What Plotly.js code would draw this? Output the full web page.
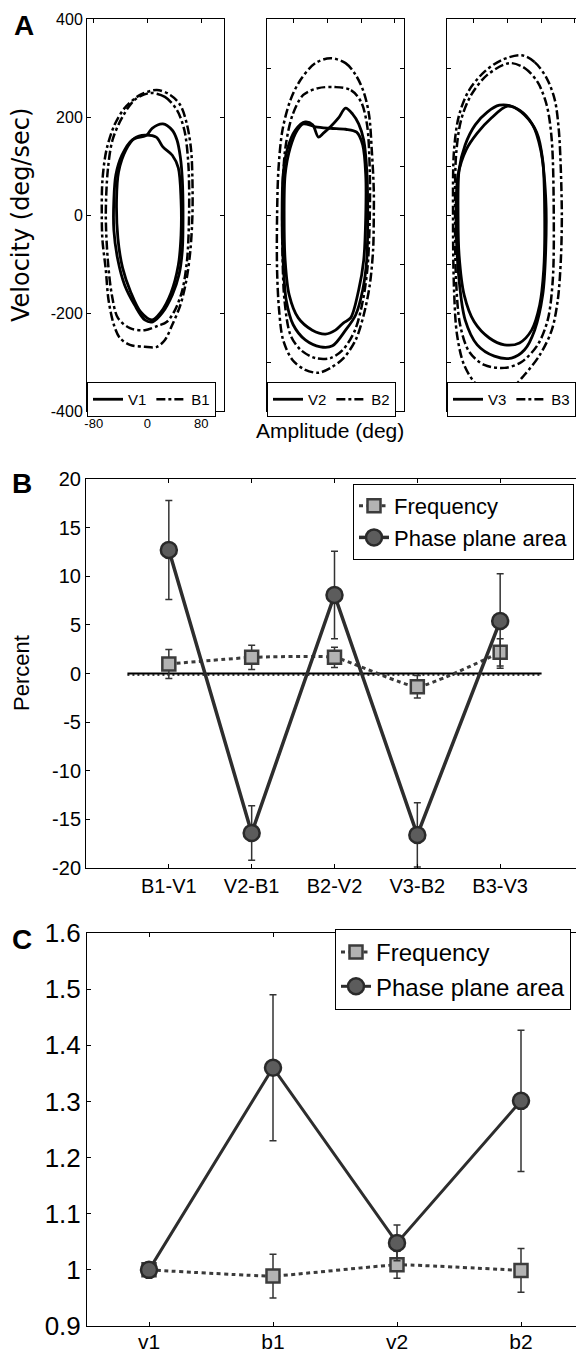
<!DOCTYPE html>
<html><head><meta charset="utf-8">
<script src="https://cdn.plot.ly/plotly-3.0.1.min.js"></script>
<style>html,body{margin:0;padding:0;overflow:hidden;background:#fff;width:576px;height:1353px}</style>
</head><body><div id="chart" style="width:600px;height:1353px"></div>
<script>
// ---------- Panel A: phase-plane loops (amplitude deg, velocity deg/sec) ----------
const v1aX = [-1,7,23,37,44,49,52,53,52,47,37,22,8,-4,-19,-34,-44,-50,-50,-47,-38,-23,-1];
const v1aY = [163,177,186,173,153,118,71,0,-71,-122,-163,-200,-218,-214,-184,-143,-92,-31,31,82,122,153,163];
const v1bX = [-4,13,23,37,46,50,50,46,35,20,7,-10,-25,-37,-44,-46,-43,-32,-19,-4];
const v1bY = [163,159,139,122,96,31,-41,-102,-159,-198,-214,-198,-157,-108,-47,31,88,133,157,163];
const b1aX = [14,34,49,59,65,67,67,64,58,49,37,26,14,-4,-26,-41,-50,-58,-62,-67,-68,-67,-61,-49,-34,-11,14];
const b1aY = [255,245,224,184,133,71,0,-71,-133,-184,-224,-255,-269,-269,-265,-251,-224,-173,-112,-51,0,71,133,184,218,245,255];
const b1bX = [4,26,44,55,61,62,59,52,41,29,16,-4,-26,-44,-53,-59,-62,-59,-52,-38,-19,4];
const b1bY = [249,241,214,173,102,0,-92,-153,-194,-218,-226,-235,-231,-210,-163,-92,0,92,153,198,235,249];

const v2aX = [-33,-22,-13.5,-6,4.5,16.5,27,37.5,46.5,54,58.5,60,58.5,52.5,42,27,7.5,-10.5,-33,-51,-61.5,-66,-67.5,-66,-60,-48,-33];
const v2aY = [190,184,159,167,180,198,218,206,186,153,92,-4,-92,-153,-204,-235,-267,-269,-255,-224,-173,-92,-4,82,133,173,190];
const v2bX = [-36,-18,4.5,27,43.5,52.5,57,57,54,46.5,34.5,24,12,-3,-22.5,-43.5,-57,-63,-64.5,-63,-55.5,-45,-36];
const v2bY = [186,180,177,175,169,143,82,-4,-92,-153,-210,-220,-235,-243,-235,-210,-163,-92,-4,82,137,173,186];
const b2aX = [4.5,27,42,54,62,66,69,69,68,63,54,42,24,4.5,-13.5,-33,-52,-66,-72,-75,-75,-73,-67,-55,-40,-18,4.5];
const b2aY = [320,310,286,251,204,133,51,-4,-71,-143,-204,-255,-292,-312,-322,-316,-296,-255,-194,-112,-4,92,173,235,276,310,320];
const b2bX = [12,35,50,59,63,63,60,53,41,23,4.5,-18,-40,-55,-64,-67,-67,-63,-52,-36,-13.5,12];
const b2bY = [261,255,231,184,92,-4,-102,-173,-235,-275,-292,-292,-275,-245,-173,-71,31,133,204,245,259,261];

const v3aX = [-30,-12,6,25.5,43.5,52.5,55.5,54,48,36,18,-4.5,-27,-49.5,-64.5,-72,-73.5,-72,-63,-48,-30];
const v3aY = [210,224,222,204,169,112,-4,-112,-184,-235,-261,-265,-251,-218,-163,-82,-4,92,143,184,210];
const v3bX = [-61.5,-45,-24,0,18,37.5,49.5,57,57,52.5,40.5,25.5,6,-19.5,-45,-63,-72,-76.5,-73.5,-61.5];
const v3bY = [133,167,198,222,214,184,133,35,-71,-163,-235,-275,-292,-288,-265,-214,-133,-4,82,133];
const b3aX = [21,40.5,58.5,70.5,76.5,79.5,81,79.5,75,66,48,25.5,6,-19.5,-45,-64.5,-75,-79.5,-81,-79.5,-72,-57,-34.5,-9,21];
const b3aY = [326,312,279,235,173,92,-4,-92,-173,-235,-286,-326,-353,-361,-347,-306,-245,-153,-4,133,204,255,292,316,326];
const b3bX = [3,25.5,45,58.5,66,69,67.5,60,45,21,-4.5,-34.5,-57,-70.5,-76.5,-78,-76.5,-69,-54,-30,3];
const b3bY = [310,300,271,224,153,-4,-133,-214,-265,-300,-312,-306,-279,-224,-133,-4,122,194,245,286,310];

const aYTicks = [-400,-200,0,200,400];
const aYTickText = ['-400','-200','0','200','400'];
const aYMinor = [-400,-300,-200,-100,0,100,200,300,400];
const aXTicks1 = [-80,0,80];
const aXTickText1 = ['-80','0','80'];
const aXTicks23 = [-50,0,50,100];

// ---------- Panel B: percent change ----------
const catB = ['B1-V1','V2-B1','B2-V2','V3-B2','B3-V3'];
const posB = [1,2,3,4,5];
const freqB = [0.98,1.66,1.66,-1.36,2.18];
const freqBErr = [1.5,1.25,1.05,1.15,1.4];
const phaseB = [12.7,-16.4,8.07,-16.6,5.4];
const phaseBErr = [5.1,2.8,4.5,3.3,4.85];
const zeroX = [0.5,5.5];
const zeroY = [0,0];
const zeroDotY = [-0.15,-0.15];
const bYTicks = [-20,-15,-10,-5,0,5,10,15,20];
const bYTickText = ['-20','-15','-10','-5','0','5','10','15','20'];

// ---------- Panel C: normalised values ----------
const catC = ['v1','b1','v2','b2'];
const posC = [1,2,3,4];
const freqC = [1.0,0.989,1.009,0.999];
const freqCErr = [0,0.039,0.024,0.039];
const phaseC = [1.0,1.36,1.048,1.301];
const phaseCErr = [0,0.13,0.032,0.126];

// ---------- layout helpers ----------
const W = 600, H = 1353;
const fx = p => p / W;
const fy = p => 1 - p / H;
const FONT = 'Liberation Sans, Arial, Helvetica, sans-serif';

function loop(x, y, n, name, dash, show) {
  return {type:'scatter', mode:'lines', x:x, y:y, xaxis:'x'+(n===1?'':n), yaxis:'y'+(n===1?'':n),
    name:name, legend: n===1?'legend':'legend'+n, showlegend:show, hoverinfo:'skip',
    line:{color:'#000', width: dash==='solid'?2.8:2.5, dash:dash, shape:'spline', smoothing:0.9}};
}

const traces = [
  loop(b1aX,b1aY,1,'B1','dashdot',false), loop(b1bX,b1bY,1,'B1','dashdot',true),
  loop(v1aX,v1aY,1,'V1','solid',true), loop(v1bX,v1bY,1,'V1','solid',false),
  loop(b2aX,b2aY,2,'B2','dashdot',false), loop(b2bX,b2bY,2,'B2','dashdot',true),
  loop(v2aX,v2aY,2,'V2','solid',true), loop(v2bX,v2bY,2,'V2','solid',false),
  loop(b3aX,b3aY,3,'B3','dashdot',false), loop(b3bX,b3bY,3,'B3','dashdot',true),
  loop(v3aX,v3aY,3,'V3','solid',true), loop(v3bX,v3bY,3,'V3','solid',false),
];

// Panel B
traces.push({type:'scatter', mode:'lines', x:zeroX, y:zeroDotY, xaxis:'x4', yaxis:'y4', showlegend:false,
  line:{color:'#000', width:1.5, dash:'2px,3px'}, hoverinfo:'skip'});
traces.push({type:'scatter', mode:'lines', x:zeroX, y:zeroY, xaxis:'x4', yaxis:'y4', showlegend:false,
  line:{color:'#000', width:1.8}, hoverinfo:'skip'});
traces.push({type:'scatter', mode:'lines+markers', x:posB, y:freqB, xaxis:'x4', yaxis:'y4',
  name:'Frequency', legend:'legend4',
  error_y:{type:'data', array:freqBErr, visible:true, color:'#333', thickness:1.5, width:3.5},
  line:{color:'#3a3a3a', width:3, dash:'4px,3.5px', shape:'spline', smoothing:0.4},
  marker:{symbol:'square', size:13, color:'#b3b3b3', line:{color:'#3c3c3c', width:2.5}}});
traces.push({type:'scatter', mode:'lines+markers', x:posB, y:phaseB, xaxis:'x4', yaxis:'y4',
  name:'Phase plane area', legend:'legend4',
  error_y:{type:'data', array:phaseBErr, visible:true, color:'#333', thickness:1.5, width:3.5},
  line:{color:'#2d2d2d', width:3.5},
  marker:{symbol:'circle', size:16, color:'#5c5c5c', line:{color:'#2a2a2a', width:2.5}}});

// Panel C
traces.push({type:'scatter', mode:'lines+markers', x:posC, y:freqC, xaxis:'x5', yaxis:'y5',
  name:'Frequency', legend:'legend5',
  error_y:{type:'data', array:freqCErr, visible:true, color:'#333', thickness:1.5, width:3.5},
  line:{color:'#3a3a3a', width:3, dash:'4px,3.5px', shape:'spline', smoothing:0.3},
  marker:{symbol:'square', size:13, color:'#b3b3b3', line:{color:'#3c3c3c', width:2.5}}});
traces.push({type:'scatter', mode:'lines+markers', x:posC, y:phaseC, xaxis:'x5', yaxis:'y5',
  name:'Phase plane area', legend:'legend5',
  error_y:{type:'data', array:phaseCErr, visible:true, color:'#333', thickness:1.5, width:3.5},
  line:{color:'#2d2d2d', width:3},
  marker:{symbol:'circle', size:16, color:'#5c5c5c', line:{color:'#2a2a2a', width:2.5}}});

const axBase = {showline:true, linecolor:'#000', linewidth:1, mirror:'ticks', ticks:'inside', ticklen:4,
  tickcolor:'#000', tickwidth:1, zeroline:false, showgrid:false, fixedrange:true,
  tickfont:{family:FONT, size:13, color:'#000'}};
const ax = o => Object.assign({}, axBase, o);

const aYd = [fy(411), fy(19)];
const legA = x0 => ({x:fx(x0), y:fy(382), xanchor:'left', yanchor:'top', orientation:'h', bgcolor:'#fff',
  bordercolor:'#000', borderwidth:1, font:{family:FONT,size:15,color:'#000'}, traceorder:'reversed', itemwidth:30});
const layout = {
  width: W, height: H, margin:{l:0, r:0, t:0, b:0}, paper_bgcolor:'#fff', plot_bgcolor:'#fff',
  font:{family:FONT, color:'#000'},
  xaxis: ax({domain:[fx(87),fx(224)], anchor:'y', range:[-90,114], tickmode:'array', tickvals:aXTicks1, ticktext:aXTickText1}),
  yaxis: ax({domain:aYd, anchor:'x', range:[-400,400], tickmode:'array', tickvals:aYTicks, ticktext:aYTickText, tickfont:{family:FONT,size:16,color:'#000'}}),
  xaxis2: ax({domain:[fx(267),fx(404)], anchor:'y2', range:[-90,114], tickmode:'array', tickvals:aXTicks23, showticklabels:false}),
  yaxis2: ax({domain:aYd, anchor:'x2', range:[-400,400], tickmode:'array', tickvals:aYMinor, showticklabels:false}),
  xaxis3: ax({domain:[fx(447),fx(584)], anchor:'y3', range:[-90,114], tickmode:'array', tickvals:aXTicks23, showticklabels:false}),
  yaxis3: ax({domain:aYd, anchor:'x3', range:[-400,400], tickmode:'array', tickvals:aYMinor, showticklabels:false}),
  xaxis4: ax({domain:[fx(86),fx(583)], anchor:'y4', range:[0,6], tickmode:'array', tickvals:posB, ticktext:catB, tickfont:{family:FONT,size:20,color:'#000'}}),
  yaxis4: ax({domain:[fy(868),fy(479)], anchor:'x4', range:[-20,20], tickmode:'array', tickvals:bYTicks, ticktext:bYTickText, tickfont:{family:FONT,size:20,color:'#000'}}),
  xaxis5: ax({domain:[fx(87),fx(583)], anchor:'y5', range:[0.5,4.5], tickmode:'array', tickvals:posC, ticktext:catC, ticklabelstandoff:-3, tickfont:{family:FONT,size:21,color:'#000'}}),
  yaxis5: ax({domain:[fy(1326),fy(933)], anchor:'x5', range:[0.9,1.6], dtick:0.1, tick0:0.9, tickfont:{family:FONT,size:26,color:'#000'}}),
  showlegend:true,
  legend: legA(87), legend2: legA(267), legend3: legA(447),
  legend4: {x:fx(353), y:fy(484), xanchor:'left', yanchor:'top', bgcolor:'#fff', bordercolor:'#000', borderwidth:1, font:{family:FONT,size:22,color:'#000'}, tracegroupgap:0, itemwidth:30},
  legend5: {x:fx(335), y:fy(929), xanchor:'left', yanchor:'top', bgcolor:'#fff', bordercolor:'#000', borderwidth:1, font:{family:FONT,size:24,color:'#000'}, tracegroupgap:0, itemwidth:30},
  annotations: [
    {text:'<b>A</b>', x:fx(24), y:fy(26), xref:'paper', yref:'paper', showarrow:false, xanchor:'center', yanchor:'middle', font:{family:FONT,size:28,color:'#000'}},
    {text:'<b>B</b>', x:fx(22), y:fy(484), xref:'paper', yref:'paper', showarrow:false, xanchor:'center', yanchor:'middle', font:{family:FONT,size:28,color:'#000'}},
    {text:'<b>C</b>', x:fx(22), y:fy(939), xref:'paper', yref:'paper', showarrow:false, xanchor:'center', yanchor:'middle', font:{family:FONT,size:28,color:'#000'}},
    {text:'Velocity (deg/sec)', x:fx(21), y:fy(215), xref:'paper', yref:'paper', showarrow:false, textangle:-90, xanchor:'center', yanchor:'middle', font:{family:'DejaVu Sans, sans-serif',size:24,color:'#000'}},
    {text:'Amplitude (deg)', x:fx(330), y:fy(430), xref:'paper', yref:'paper', showarrow:false, xanchor:'center', yanchor:'middle', font:{family:FONT,size:21,color:'#000'}},
    {text:'Percent', x:fx(21), y:fy(673), xref:'paper', yref:'paper', showarrow:false, textangle:-90, xanchor:'center', yanchor:'middle', font:{family:FONT,size:22,color:'#000'}}
  ]
};

Plotly.newPlot('chart', traces, layout, {staticPlot:true, displayModeBar:false});
</script></body></html>
